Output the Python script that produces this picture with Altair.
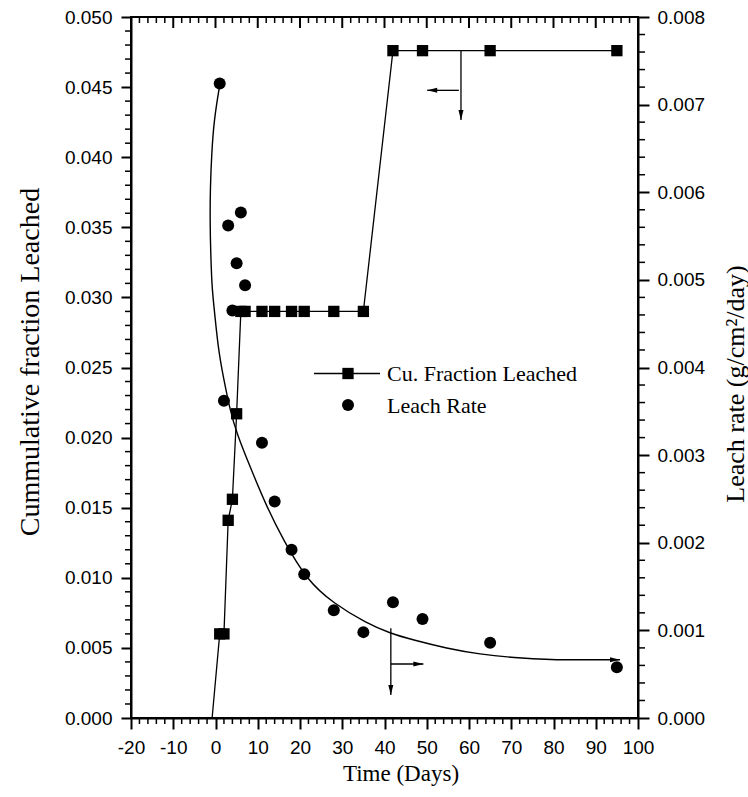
import altair as alt
import pandas as pd

# ---------------- data ----------------
days = [1, 2, 3, 4, 5, 6, 7, 11, 14, 18, 21, 28, 35, 42, 49, 65, 95]
cu_fraction = [0.0060, 0.0060, 0.0141, 0.0156, 0.0217, 0.0290, 0.0290, 0.0290, 0.0290,
               0.0290, 0.0290, 0.0290, 0.0290, 0.0476, 0.0476, 0.0476, 0.0476]
cu_line_start_day = [-0.8]
cu_line_start_value = [0.0]

leach_rate = [0.00724, 0.00362, 0.00562, 0.00465, 0.00519, 0.00577, 0.00494, 0.00314,
              0.00247, 0.00192, 0.00164, 0.00123, 0.00098, 0.00132, 0.00113, 0.00086, 0.00058]

# fitted curve (right axis units)
fit_day = [1.07, -0.36, -0.90, -1.23, -1.30, -1.14, -0.83, -0.52, 0.66, 1.85, 3.43, 5.02,
           8.17, 12.12, 16.05, 21.59, 27.88, 35.79, 41.30, 46.82, 54.72, 62.60, 70.49,
           79.95, 86.27, 95.74]
fit_rate = [0.007243, 0.006825, 0.006445, 0.006063, 0.005683, 0.005303, 0.004922, 0.004770,
            0.004200, 0.003895, 0.003515, 0.003249, 0.002868, 0.002411, 0.002031, 0.001575,
            0.001309, 0.001081, 0.000967, 0.000890, 0.000795, 0.000727, 0.000688, 0.000664,
            0.000664, 0.000665]

# annotation arrows (left axis units)
arrow_v_day = [58.1, 41.5]
arrow_v_top = [0.04763, 0.0064]
arrow_v_bottom = [0.04265, 0.00164]
arrow_left_start = [57.6]
arrow_left_end = [50.1]
arrow_left_value = [0.04477]
arrow_right_start = [41.5]
arrow_right_end = [49.2]
arrow_right_value = [0.00385]

legend_labels = ["Cu. Fraction Leached", "Leach Rate"]

# ticks
x_major = [-20, -10, 0, 10, 20, 30, 40, 50, 60, 70, 80, 90, 100]
x_minor = [v for v in range(-20, 101, 2) if v % 10 != 0]
left_major = [0.0, 0.005, 0.010, 0.015, 0.020, 0.025, 0.030, 0.035, 0.040, 0.045, 0.050]
left_minor = [round(i * 0.001, 3) for i in range(51) if i % 5 != 0]
right_major = [0.0, 0.001, 0.002, 0.003, 0.004, 0.005, 0.006, 0.007, 0.008]
right_minor = [round(i * 0.0002, 4) for i in range(41) if i % 5 != 0]

# ---------------- layout ----------------
W, H = 507, 701
SANS = "Liberation Sans"
SERIF = "Liberation Serif"

xscale = alt.Scale(domain=[-20, 100], nice=False, zero=False)
lscale = alt.Scale(domain=[0, 0.05], nice=False, zero=False)
rscale = alt.Scale(domain=[0, 0.008], nice=False, zero=False)

x_axis = alt.Axis(values=x_major, labelExpr="'' + datum.value", title="Time (Days)",
                  tickSize=11, tickWidth=2, labelPadding=9, labelFlush=False, labelOverlap=False,
                  labelFont=SANS, labelFontSize=19, titleFont=SERIF, titleFontSize=23,
                  titleFontWeight="normal", titleX=269.5, titleY=55, titleBaseline="middle",
                  titleAlign="center", grid=False, domainWidth=2, orient="bottom")
left_axis = alt.Axis(values=left_major, format=".3f", title="Cummulative fraction Leached",
                     tickSize=10, tickWidth=2, labelPadding=9, labelOverlap=False,
                     labelFont=SANS, labelFontSize=19, titleFont=SERIF, titleFontSize=28,
                     titleFontWeight="normal", titleAngle=270, titleX=-100.5, titleY=344.5,
                     titleBaseline="middle", titleAlign="center", grid=False, domainWidth=2,
                     orient="left")
right_axis = alt.Axis(orient="right", values=right_major, format=".3f",
                      title="Leach rate (g/cm²/day)",
                      tickSize=11, tickWidth=2, labelPadding=8, labelOverlap=False,
                      labelFont=SANS, labelFontSize=19, titleFont=SERIF, titleFontSize=26,
                      titleFontWeight="normal", titleAngle=270, titleX=97, titleY=366.5,
                      titleBaseline="middle", titleAlign="center", grid=False, domainWidth=2)

cu_df = pd.DataFrame({"day": days, "cu": cu_fraction})
cu_line_df = pd.DataFrame({"day": cu_line_start_day + days,
                           "cu": cu_line_start_value + cu_fraction})
rate_df = pd.DataFrame({"day": days, "rate": leach_rate})
fit_df = pd.DataFrame({"day": fit_day, "rate": fit_rate, "i": list(range(len(fit_day)))})

DOWN = "M0,0L-0.5,-2L0.5,-2Z"
LEFT = "M0,0L2,-0.5L2,0.5Z"
RIGHT = "M0,0L-2,-0.5L-2,0.5Z"


def X(field):
    # every layer carries the identical x axis so that the shared axis merges cleanly
    return alt.X(field, scale=xscale, axis=x_axis)


def YL(field, axis=None):
    return alt.Y(field, scale=lscale, axis=axis)


def YR(field, axis=None):
    return alt.Y(field, scale=rscale, axis=axis)


cu_line = alt.Chart(cu_line_df).mark_line(color="black", strokeWidth=1.3).encode(
    x=X("day:Q"), y=YL("cu:Q", left_axis))
cu_pts = alt.Chart(cu_df).mark_point(shape="square", filled=True, size=128, color="black",
                                     opacity=1).encode(x=X("day:Q"), y=YL("cu:Q"))

rate_pts = alt.Chart(rate_df).mark_point(shape="circle", filled=True, size=144, color="black",
                                         opacity=1).encode(x=X("day:Q"), y=YR("rate:Q", right_axis))
fit_line = alt.Chart(fit_df).mark_line(color="black", strokeWidth=1.4, interpolate="basis").encode(
    x=X("day:Q"), y=YR("rate:Q"), order="i:Q")
fit_end = alt.Chart(fit_df.tail(1)).mark_point(filled=True, size=100, color="black", opacity=1,
                                               strokeWidth=0).encode(
    x=X("day:Q"), y=YR("rate:Q"), shape=alt.value(RIGHT))

av_df = pd.DataFrame({"d": arrow_v_day, "t": arrow_v_top, "b": arrow_v_bottom})
arrows_v = alt.Chart(av_df).mark_rule(color="black", strokeWidth=1.3).encode(
    x=X("d:Q"), y=YL("t:Q"), y2="b:Q")
heads_v = alt.Chart(av_df).mark_point(filled=True, size=100, color="black", opacity=1,
                                      strokeWidth=0).encode(
    x=X("d:Q"), y=YL("b:Q"), shape=alt.value(DOWN))

al_df = pd.DataFrame({"s": arrow_left_start, "e": arrow_left_end, "v": arrow_left_value})
arrow_l = alt.Chart(al_df).mark_rule(color="black", strokeWidth=1.3).encode(
    x=X("s:Q"), x2="e:Q", y=YL("v:Q"))
head_l = alt.Chart(al_df).mark_point(filled=True, size=100, color="black", opacity=1,
                                     strokeWidth=0).encode(
    x=X("e:Q"), y=YL("v:Q"), shape=alt.value(LEFT))

ar_df = pd.DataFrame({"s": arrow_right_start, "e": arrow_right_end, "v": arrow_right_value})
arrow_r = alt.Chart(ar_df).mark_rule(color="black", strokeWidth=1.3).encode(
    x=X("s:Q"), x2="e:Q", y=YL("v:Q"))
head_r = alt.Chart(ar_df).mark_point(filled=True, size=100, color="black", opacity=1,
                                     strokeWidth=0).encode(
    x=X("e:Q"), y=YL("v:Q"), shape=alt.value(RIGHT))

# minor / mirrored ticks
left_minor_ticks = alt.Chart(pd.DataFrame({"v": left_minor})).mark_rule(
    color="black", strokeWidth=1.5).encode(
    y=YL("v:Q"), x=alt.value(0), x2=alt.value(-6))
right_minor_ticks = alt.Chart(pd.DataFrame({"v": right_minor})).mark_rule(
    color="black", strokeWidth=1.5).encode(
    y=YR("v:Q"), x=alt.value(W), x2=alt.value(W + 7))
bottom_minor_ticks = alt.Chart(pd.DataFrame({"v": x_minor})).mark_rule(
    color="black", strokeWidth=1.5).encode(
    x=X("v:Q"), y=alt.value(H), y2=alt.value(H + 6))
top_major_ticks = alt.Chart(pd.DataFrame({"v": x_major})).mark_rule(
    color="black", strokeWidth=2).encode(
    x=X("v:Q"), y=alt.value(0), y2=alt.value(11))
top_minor_ticks = alt.Chart(pd.DataFrame({"v": x_minor})).mark_rule(
    color="black", strokeWidth=1.5).encode(
    x=X("v:Q"), y=alt.value(0), y2=alt.value(6))

# legend
one = pd.DataFrame({"k": [0]})
leg_line = alt.Chart(one).mark_rule(color="black", strokeWidth=1.3).encode(
    x=alt.value(183), x2=alt.value(249), y=alt.value(356.5))
leg_sq = alt.Chart(one).mark_point(
    shape="square", filled=True, size=128, color="black", opacity=1).encode(
    x=alt.value(217), y=alt.value(356.5))
leg_circ = alt.Chart(one).mark_point(
    shape="circle", filled=True, size=144, color="black", opacity=1).encode(
    x=alt.value(217), y=alt.value(388))
leg_t1 = alt.Chart(pd.DataFrame({"t": [legend_labels[0]]})).mark_text(
    align="left", baseline="middle", font=SERIF, fontSize=22, color="black").encode(
    text="t:N", x=alt.value(256), y=alt.value(357))
leg_t2 = alt.Chart(pd.DataFrame({"t": [legend_labels[1]]})).mark_text(
    align="left", baseline="middle", font=SERIF, fontSize=22, color="black").encode(
    text="t:N", x=alt.value(256), y=alt.value(389))

chart = alt.layer(
    cu_line, rate_pts, cu_pts, fit_line, fit_end,
    arrows_v, heads_v, arrow_l, head_l, arrow_r, head_r,
    left_minor_ticks, right_minor_ticks, bottom_minor_ticks, top_major_ticks, top_minor_ticks,
    leg_line, leg_sq, leg_circ, leg_t1, leg_t2,
).resolve_scale(y="independent").properties(
    width=W, height=H,
    autosize=alt.AutoSizeParams(type="none"),
    padding={"left": 131, "top": 17, "right": 110, "bottom": 79},
    background="white",
).configure_view(stroke="black", strokeWidth=2).configure_axis(
    labelColor="black", tickColor="black", domainColor="black", titleColor="black")

chart.save("out.html", embed_options={"renderer": "svg", "actions": False})
